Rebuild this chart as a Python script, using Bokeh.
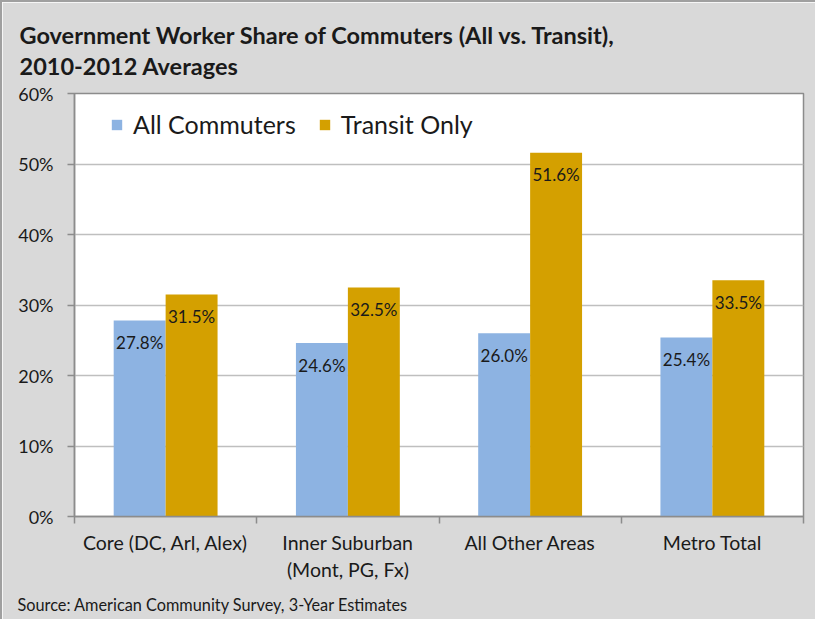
from bokeh.plotting import figure
from bokeh.models import FixedTicker, Legend, LegendItem, ColumnDataSource, NumeralTickFormatter, Title
from bokeh.core.properties import value
from bokeh.embed import file_html
from bokeh.resources import INLINE

categories = ["Core (DC, Arl, Alex)", "Inner Suburban\n(Mont, PG, Fx)", "All Other Areas", "Metro Total"]
all_commuters = [27.8, 24.6, 26.0, 25.4]
transit_only = [31.5, 32.5, 51.6, 33.5]
y_ticks = [0, 10, 20, 30, 40, 50, 60]
title_text = "Government Worker Share of Commuters (All vs. Transit),\n2010-2012 Averages"
source_text = "Source: American Community Survey, 3-Year Estimates"

FONT = "Lato"
BLUE = "#8DB3E2"
GOLD = "#D4A000"
BG = "#D9D9D9"
TXT = "#1a1a1a"

centers = [i + 0.5 for i in range(len(categories))]
bw = 0.285
x_all = [c - bw / 2 for c in centers]
x_tr = [c + bw / 2 for c in centers]

src_all = ColumnDataSource(dict(x=x_all, top=all_commuters, lab=[f"{v:.1f}%" for v in all_commuters]))
src_tr = ColumnDataSource(dict(x=x_tr, top=transit_only, lab=[f"{v:.1f}%" for v in transit_only]))

p = figure(width=815, height=619, x_range=(0, 4), y_range=(0, 60),
           output_backend="svg", toolbar_location=None,
           min_border_left=72, min_border_right=14, min_border_top=91, min_border_bottom=104)
p.background_fill_color = "white"
p.border_fill_color = BG
p.outline_line_color = "#8C8C8C"
p.outline_line_width = 1.5

r1 = p.vbar(x="x", top="top", width=bw, source=src_all, fill_color=BLUE, line_color=None)
r2 = p.vbar(x="x", top="top", width=bw, source=src_tr, fill_color=GOLD, line_color=None)

for src in (src_all, src_tr):
    p.text(x="x", y="top", text="lab", source=src, text_align="center", text_baseline="middle",
           y_offset=22, text_font=value(FONT), text_font_size="17px", text_color=TXT)

# y axis
p.yaxis.ticker = FixedTicker(ticks=y_ticks)
p.yaxis.formatter = NumeralTickFormatter(format="0")
p.yaxis.major_label_overrides = {t: f"{t}%" for t in y_ticks}
p.yaxis.axis_line_color = "#8C8C8C"
p.yaxis.axis_line_width = 1.5
p.yaxis.major_tick_line_color = "#8C8C8C"
p.yaxis.major_tick_line_width = 1.5
p.yaxis.major_tick_out = 7
p.yaxis.major_tick_in = 0
p.yaxis.minor_tick_line_color = None
p.yaxis.major_label_text_font = FONT
p.yaxis.major_label_text_font_size = "18px"
p.yaxis.major_label_text_color = TXT
p.yaxis.major_label_standoff = 14

# x axis
p.xaxis.ticker = FixedTicker(ticks=centers, minor_ticks=[0, 1, 2, 3, 4])
p.xaxis.major_label_overrides = {c: lab for c, lab in zip(centers, categories)}
p.xaxis.axis_line_color = "#8C8C8C"
p.xaxis.axis_line_width = 1.5
p.xaxis.major_tick_line_color = None
p.xaxis.minor_tick_line_color = "#8C8C8C"
p.xaxis.minor_tick_line_width = 1.5
p.xaxis.minor_tick_out = 7
p.xaxis.minor_tick_in = 0
p.xaxis.major_label_text_font = FONT
p.xaxis.major_label_text_font_size = "19.5px"
p.xaxis.major_label_text_color = TXT
p.xaxis.major_label_standoff = 7

p.xgrid.grid_line_color = None
p.ygrid.grid_line_color = "#BFBFBF"
p.ygrid.grid_line_width = 1.5

legend = Legend(items=[LegendItem(label="All Commuters", renderers=[r1]),
                       LegendItem(label="Transit Only", renderers=[r2])],
                orientation="horizontal", location=(36, 377))
legend.padding = 0
legend.margin = 0
legend.spacing = 22
legend.glyph_width = 13
legend.glyph_height = 13
legend.label_standoff = 10
legend.label_text_font = FONT
legend.label_text_font_size = "25px"
legend.label_text_color = TXT
legend.border_line_color = None
legend.background_fill_alpha = 0
p.add_layout(legend, "center")

p.add_layout(Title(text=title_text, align="left", offset=-55, standoff=22,
                   vertical_align="top", text_baseline="top",
                   text_font=FONT, text_font_size="23.5px", text_font_style="bold",
                   text_line_height=1.14, text_color=TXT), "above")
p.add_layout(Title(text=source_text, align="left", offset=-57, standoff=16,
                   text_font=FONT, text_font_size="16.3px", text_font_style="normal",
                   text_color=TXT), "below")

p.styles = {"border-top": "2px solid #A0A0A0", "border-left": "2px solid #A0A0A0"}

open("out.html", "w").write(file_html(p, INLINE))
